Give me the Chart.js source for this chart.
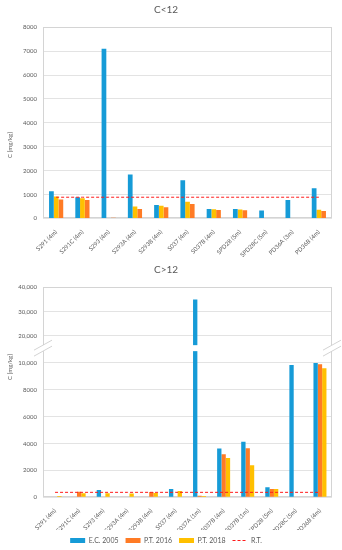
<!DOCTYPE html>
<html>
<head>
<meta charset="utf-8">
<title>C&lt;12 / C&gt;12</title>
<script src="https://cdn.jsdelivr.net/npm/chart.js"></script>
<style>
  html, body { margin: 0; padding: 0; background: #fff; overflow: hidden; }
  #wrapTop { position: absolute; left: 0; top: 0; width: 342px; height: 260px; }
  #wrapBottom { position: absolute; left: 0; top: 260px; width: 342px; height: 294px; }
</style>
</head>
<body>
<div id="wrapTop"><canvas id="chartTop"></canvas></div>
<div id="wrapBottom"><canvas id="chartBottom"></canvas></div>
<script>
// Data: C<12 chart
const labelsTop = ['S291 (4m)', 'S291C (4m)', 'S293 (4m)', 'S293A (4m)', 'S293B (4m)', 'S037 (4m)',
    'S037B (4m)', 'SPD28 (5m)', 'SPD28C (5m)', 'PD36A (3m)', 'PD36B (4m)'];
const ec2005Top = [1140, 890, 7100, 1845, 570, 1605, 400, 397, 330, 772, 1268];
const pt2018Top = [920, 845, null, 505, 530, 700, 385, 372, null, null, 370];
const pt2016Top = [790, 775, 30, 398, 468, 607, 356, 345, null, null, 314];
const rtTop = 890;
const ticksTop = [0, 1000, 2000, 3000, 4000, 5000, 6000, 7000, 8000];

// Data: C>12 chart
const labelsBottom = ['S291 (4m)', 'S291C (4m)', 'S293 (4m)', 'S293A (4m)', 'S293B (4m)', 'S037 (4m)',
    'S037A (1m)', 'S037B (4m)', 'S037B (1m)', 'SPD28 (5m)', 'SPD28C (5m)', 'PD36B (4m)'];
const ec2005Bottom = [null, null, 540, null, null, 620, 35000, 3640, 4130, 740, 9850, 10000];
const pt2016Bottom = [null, 420, null, null, 400, null, 110, 3200, 3660, 620, null, 9900];
const pt2018Bottom = [100, 300, 300, 280, 320, 470, 100, 2920, 2380, 620, null, 9600];
const rtBottom = 370;
const ticksBottom = [0, 2000, 4000, 6000, 8000, 10000, 20000, 30000, 40000];
const breakLow = 10880;
const breakHigh = 16200;

const BLUE = '#169bd7';
const ORANGE = '#ff7b25';
const YELLOW = '#ffc000';
const RED = '#ff1a1a';
const GRID = '#e3e3e3';
const BORDER = '#d4d4d4';
const TEXT = '#595959';
const FONT = 'Lato, "Open Sans", sans-serif';

// Axis with a break: values below breakLow use the lower part, values above breakHigh the upper part
class BrokenScale extends Chart.LinearScale {
    static id = 'broken';
    static defaults = {};

    buildTicks() {
        return ticksBottom.map(v => ({ value: v }));
    }

    toDecimal(v) {
        const { low, high, lowPart, gapPart } = this.options.split;
        if (v <= low) return v / low * lowPart;
        if (v <= high) return lowPart + (v - low) / (high - low) * gapPart;
        return lowPart + gapPart + (v - high) / (this.max - high) * (1 - lowPart - gapPart);
    }

    getPixelForValue(v) {
        if (v === null || isNaN(v)) return NaN;
        return this.getPixelForDecimal(this.toDecimal(v));
    }

    getValueForPixel(px) {
        const { low, high, lowPart, gapPart } = this.options.split;
        const d = this.getDecimalForPixel(px);
        if (d <= lowPart) return d / lowPart * low;
        if (d <= lowPart + gapPart) return low + (d - lowPart) / gapPart * (high - low);
        return high + (d - lowPart - gapPart) / (1 - lowPart - gapPart) * (this.max - high);
    }
}
Chart.register(BrokenScale);

// Thin box around the plot area
const plotBorder = {
    id: 'plotBorder',
    beforeDatasetsDraw(chart) {
        const { ctx, chartArea: a } = chart;
        ctx.save();
        ctx.strokeStyle = BORDER;
        ctx.lineWidth = 1;
        ctx.strokeRect(Math.round(a.left) + 0.5, Math.round(a.top) + 0.5,
            Math.round(a.right - a.left) - 1, Math.round(a.bottom - a.top) - 1);
        ctx.restore();
    }
};

// Rotated y axis title at a chosen position
const axisTitle = {
    id: 'axisTitle',
    afterDraw(chart, args, opts) {
        const ctx = chart.ctx;
        ctx.save();
        ctx.translate(opts.x, opts.y);
        ctx.rotate(-Math.PI / 2);
        ctx.font = '6px ' + FONT;
        ctx.fillStyle = TEXT;
        ctx.textAlign = 'center';
        ctx.textBaseline = 'middle';
        ctx.fillText(opts.text, 0, 0);
        ctx.restore();
    }
};

// White gap and "//" marks where the axis is broken
const breakMarks = {
    id: 'breakMarks',
    afterDatasetsDraw(chart) {
        const { ctx, chartArea: a } = chart;
        const y = chart.scales.y;
        const top = y.getPixelForValue(breakHigh);
        const bottom = y.getPixelForValue(breakLow);
        ctx.save();
        ctx.fillStyle = '#fff';
        ctx.fillRect(a.left - 1, top, a.right - a.left + 2, bottom - top);
        [a.left, a.right].forEach(x => {
            ctx.beginPath();
            ctx.moveTo(x - 9, top + 5);
            ctx.lineTo(x + 9, top - 5);
            ctx.lineTo(x + 9, bottom - 5);
            ctx.lineTo(x - 9, bottom + 5);
            ctx.closePath();
            ctx.fillStyle = '#fff';
            ctx.fill();
            ctx.beginPath();
            ctx.moveTo(x - 9, top + 5);
            ctx.lineTo(x + 9, top - 5);
            ctx.moveTo(x - 9, bottom + 5);
            ctx.lineTo(x + 9, bottom - 5);
            ctx.strokeStyle = '#c8c8c8';
            ctx.lineWidth = 0.8;
            ctx.stroke();
        });
        ctx.restore();
    }
};

const tickFont = { family: FONT, size: 6 };
const titleOpts = text => ({
    display: true,
    text: text,
    color: TEXT,
    font: { family: FONT, size: 10, weight: 'normal' },
    padding: { top: 4, bottom: 11.3 }
});
const xOpts = height => ({
    grid: { display: false },
    border: { display: false },
    ticks: { font: tickFont, color: TEXT, minRotation: 45, maxRotation: 45, autoSkip: false, padding: 2 },
    afterFit: s => { s.height = height; }
});

// C<12
new Chart(document.getElementById('chartTop'), {
    type: 'bar',
    data: {
        labels: labelsTop,
        datasets: [
            { label: 'E.C. 2005', data: ec2005Top, backgroundColor: BLUE },
            { label: 'P.T. 2018', data: pt2018Top, backgroundColor: YELLOW },
            { label: 'P.T. 2016', data: pt2016Top, backgroundColor: ORANGE },
            { type: 'line', label: 'R.T.', data: labelsTop.map(() => rtTop), borderColor: RED,
              borderWidth: 1, borderDash: [3, 2], pointRadius: 0, order: -1 }
        ]
    },
    options: {
        animation: false,
        responsive: true,
        maintainAspectRatio: false,
        layout: { padding: { left: 0, right: 10, top: 0, bottom: 0 } },
        datasets: { bar: { categoryPercentage: 0.54, barPercentage: 1 } },
        plugins: {
            legend: { display: false },
            tooltip: { enabled: false },
            title: titleOpts('C<12'),
            axisTitle: { text: 'C [mg/kg]', x: 10.5, y: 145 }
        },
        scales: {
            x: xOpts(41.5),
            y: {
                min: 0,
                max: 8000,
                afterBuildTicks: s => { s.ticks = ticksTop.map(v => ({ value: v })); },
                afterFit: s => { s.width = 43; },
                grid: { color: GRID, drawTicks: false },
                border: { display: false },
                ticks: { font: tickFont, color: TEXT, padding: 6, autoSkip: false, callback: v => String(v) }
            }
        }
    },
    plugins: [plotBorder, axisTitle]
});

// C>12
new Chart(document.getElementById('chartBottom'), {
    type: 'bar',
    data: {
        labels: labelsBottom,
        datasets: [
            { label: 'E.C. 2005', data: ec2005Bottom, backgroundColor: BLUE, pointStyle: 'rect' },
            { label: 'P.T. 2016', data: pt2016Bottom, backgroundColor: ORANGE, pointStyle: 'rect' },
            { label: 'P.T. 2018', data: pt2018Bottom, backgroundColor: YELLOW, pointStyle: 'rect' },
            { type: 'line', label: 'R.T.', data: labelsBottom.map(() => rtBottom), borderColor: RED,
              backgroundColor: RED, borderWidth: 1, borderDash: [3, 2], pointRadius: 0,
              pointStyle: 'line', order: -1 }
        ]
    },
    options: {
        animation: false,
        responsive: true,
        maintainAspectRatio: false,
        layout: { padding: { left: 0, right: 10, top: 0, bottom: 0 } },
        datasets: { bar: { categoryPercentage: 0.54, barPercentage: 1 } },
        plugins: {
            legend: {
                position: 'bottom',
                labels: {
                    font: { family: FONT, size: 7 },
                    color: TEXT,
                    usePointStyle: true,
                    pointStyleWidth: 15,
                    boxWidth: 15,
                    boxHeight: 5,
                    padding: 7,
                    sort: (a, b) => a.datasetIndex - b.datasetIndex,
                    generateLabels: chart => {
                        const items = Chart.defaults.plugins.legend.labels.generateLabels(chart);
                        items.forEach(it => {
                            if (it.pointStyle === 'line') {
                                it.lineDash = [3, 2];
                                it.lineWidth = 1.2;
                            }
                        });
                        return items;
                    }
                }
            },
            tooltip: { enabled: false },
            title: titleOpts('C>12'),
            axisTitle: { text: 'C [mg/kg]', x: 10.5, y: 107 }
        },
        scales: {
            x: xOpts(32.7),
            y: {
                type: 'broken',
                min: 0,
                max: 40000,
                split: { low: breakLow, high: breakHigh, lowPart: 0.696, gapPart: 0.0285 },
                afterFit: s => { s.width = 43; },
                grid: { color: GRID, drawTicks: false },
                border: { display: false },
                ticks: {
                    font: tickFont, color: TEXT, padding: 6, autoSkip: false,
                    callback: v => v >= 10000 ? v.toLocaleString('en-US') : String(v)
                }
            }
        }
    },
    plugins: [plotBorder, axisTitle, breakMarks]
});
</script>
</body>
</html>
